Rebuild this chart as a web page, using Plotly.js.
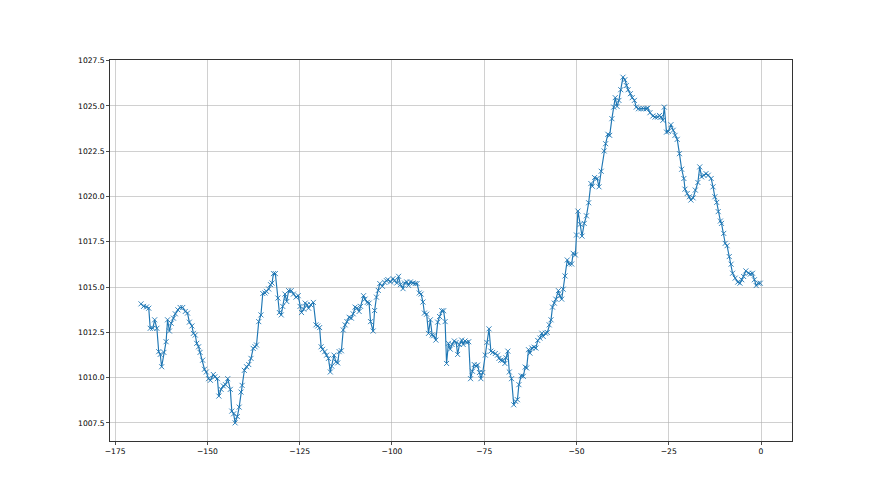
<!DOCTYPE html>
<html>
<head>
<meta charset="utf-8">
<script src="https://cdn.plot.ly/plotly-3.0.1.min.js"></script>
<style>html,body{margin:0;padding:0;background:#fff;}#chart{width:880px;height:495px;}</style>
</head>
<body>
<div id="chart"></div>
<script>
const hours = [
-168.0,-167.3,-166.5,-165.9,-165.5,-164.8,-164.3,-163.7,-163.2,-162.8,-162.4,-161.8,-161.2,-160.8,-160.3,-159.8,-159.2,-158.7,-158.0,-157.4,
-156.7,-156.0,-155.4,-154.9,-154.2,-153.8,-153.3,-152.9,-152.4,-152.0,-151.3,-150.8,-150.3,-149.7,-149.2,-148.4,-148.0,-147.3,-146.9,-146.3,
-145.7,-145.1,-144.5,-143.8,-143.4,-142.9,-142.5,-141.9,-141.4,-140.9,-140.6,-140.0,-139.4,-138.8,-138.2,-137.6,-137.1,-136.7,-136.1,-135.5,
-135.0,-134.4,-134.0,-133.4,-132.9,-132.5,-132.1,-131.6,-130.9,-130.5,-130.0,-129.6,-129.0,-128.5,-128.0,-127.3,-126.7,-126.0,-125.4,-124.9,
-124.5,-123.9,-123.5,-123.0,-122.6,-122.0,-121.3,-120.6,-120.1,-119.6,-119.2,-118.8,-118.2,-117.7,-117.2,-116.7,-116.3,-115.7,-115.2,-114.7,
-114.3,-113.7,-113.2,-112.7,-112.2,-111.6,-111.0,-110.5,-110.0,-109.5,-108.9,-108.5,-107.7,-107.3,-106.7,-106.2,-105.8,-105.1,-104.7,-104.2,
-103.7,-103.3,-102.6,-102.0,-101.5,-101.1,-100.4,-99.7,-99.3,-98.7,-98.2,-97.7,-97.0,-96.6,-96.0,-95.5,-95.0,-94.3,-93.7,-93.2,
-92.6,-92.1,-91.6,-91.2,-90.6,-90.1,-89.6,-89.1,-88.7,-88.1,-87.6,-87.1,-86.5,-86.0,-85.6,-85.2,-84.7,-84.2,-83.7,-83.1,
-82.6,-82.2,-81.7,-81.1,-80.7,-80.2,-79.7,-79.2,-78.7,-78.2,-77.7,-77.2,-76.8,-76.3,-75.9,-75.4,-74.7,-74.3,-73.7,-73.2,
-72.7,-72.0,-71.4,-71.0,-70.5,-70.0,-69.4,-69.1,-68.6,-68.2,-67.6,-67.0,-66.5,-66.0,-65.6,-65.0,-64.4,-63.9,-63.5,-63.0,
-62.6,-62.1,-61.5,-61.0,-60.5,-59.9,-59.4,-59.0,-58.4,-57.9,-57.4,-56.9,-56.5,-56.0,-55.6,-54.9,-54.5,-54.0,-53.6,-53.1,
-52.5,-52.0,-51.3,-50.9,-50.3,-50.0,-49.6,-49.0,-48.5,-47.9,-47.3,-46.7,-46.1,-45.7,-45.1,-44.4,-43.9,-43.3,-42.5,-42.1,
-41.5,-41.0,-40.4,-39.9,-39.5,-39.0,-38.5,-38.0,-37.4,-36.9,-36.5,-36.0,-35.4,-34.9,-34.3,-33.8,-33.2,-32.5,-31.8,-31.1,
-30.7,-30.1,-29.3,-28.7,-28.0,-27.5,-27.1,-26.6,-26.2,-25.6,-25.1,-24.4,-23.8,-23.3,-22.7,-22.1,-21.5,-20.9,-20.6,-20.0,
-19.4,-19.0,-18.4,-17.8,-17.1,-16.6,-16.1,-15.5,-14.9,-14.3,-13.5,-13.0,-12.5,-12.0,-11.6,-11.0,-10.7,-10.1,-9.7,-9.2,
-8.6,-8.1,-7.7,-7.0,-6.3,-5.7,-5.2,-4.7,-4.1,-3.4,-2.9,-2.3,-1.8,-1.3,-0.7,-0.2
];
const pressure = [
1014.07,1013.93,1013.90,1013.83,1012.72,1012.72,1013.19,1012.72,1011.43,1011.28,1010.60,1011.39,1011.98,1013.19,1012.57,1013.00,1013.28,1013.52,1013.74,1013.87,
1013.87,1013.65,1013.56,1013.06,1012.85,1012.44,1012.35,1011.89,1011.70,1011.39,1010.96,1010.46,1010.31,1009.94,1009.85,1010.17,1010.04,1009.94,1008.98,1009.35,
1009.54,1009.61,1009.94,1009.35,1008.15,1008.00,1007.50,1007.85,1008.37,1009.20,1009.57,1010.40,1010.60,1010.72,1011.06,1011.61,1011.70,1011.80,1013.09,1013.46,
1014.64,1014.67,1014.76,1014.89,1015.13,1015.22,1015.74,1015.74,1014.39,1013.59,1013.46,1013.93,1014.61,1014.20,1014.80,1014.80,1014.61,1014.44,1014.52,1013.93,
1013.59,1013.78,1014.11,1014.02,1013.83,1014.02,1014.15,1012.91,1012.85,1012.76,1011.70,1011.56,1011.43,1011.24,1011.06,1010.31,1010.63,1011.24,1010.87,1010.81,
1011.43,1011.48,1012.63,1012.91,1013.09,1013.33,1013.28,1013.52,1013.89,1013.83,1013.65,1013.93,1014.52,1014.33,1014.15,1014.11,1013.09,1012.57,1013.70,1014.44,
1014.81,1015.19,1015.04,1015.26,1015.35,1015.41,1015.28,1015.46,1015.35,1015.22,1015.59,1015.13,1014.91,1015.22,1015.28,1015.09,1015.28,1015.22,1015.19,1015.19,
1014.67,1014.61,1014.17,1013.56,1013.50,1012.44,1013.19,1012.35,1012.31,1012.07,1013.06,1013.37,1013.69,1013.69,1013.09,1010.78,1011.89,1011.57,1011.83,1012.02,
1011.94,1011.28,1011.83,1012.07,1011.83,1012.02,1011.94,1011.98,1009.94,1010.35,1010.72,1010.63,1010.69,1010.28,1009.94,1010.28,1011.24,1011.94,1012.69,1011.46,
1011.39,1011.33,1011.24,1011.06,1010.96,1010.96,1010.78,1011.09,1011.46,1010.31,1009.94,1008.50,1008.69,1008.78,1009.61,1010.10,1010.07,1010.58,1010.53,1011.54,
1011.35,1011.63,1011.68,1011.63,1012.05,1012.18,1012.45,1012.27,1012.45,1012.49,1012.91,1013.19,1013.89,1014.11,1014.33,1014.80,1014.51,1014.33,1014.88,1015.61,
1016.49,1016.27,1016.27,1016.86,1016.77,1017.87,1019.19,1018.46,1017.81,1018.51,1018.93,1019.65,1020.71,1020.56,1021.04,1020.99,1020.53,1021.39,1022.51,1022.91,
1023.43,1023.37,1024.29,1024.93,1025.45,1024.97,1025.30,1025.89,1026.58,1026.44,1026.12,1025.89,1025.67,1025.45,1025.30,1024.93,1024.84,1024.84,1024.84,1024.84,
1024.87,1024.62,1024.44,1024.38,1024.38,1024.47,1024.38,1024.20,1024.93,1023.55,1023.59,1023.96,1023.65,1023.37,1023.15,1022.36,1021.50,1020.99,1020.40,1020.16,
1019.98,1019.80,1019.92,1020.35,1020.77,1021.63,1021.08,1021.17,1021.26,1021.17,1020.99,1020.53,1019.98,1019.67,1019.16,1018.64,1018.51,1017.96,1017.41,1017.28,
1016.68,1016.26,1015.76,1015.49,1015.27,1015.21,1015.40,1015.58,1015.89,1015.76,1015.71,1015.76,1015.40,1015.08,1015.21,1015.21
];
const xTicks = [-175, -150, -125, -100, -75, -50, -25, 0];
const yTicks = [1007.5, 1010.0, 1012.5, 1015.0, 1017.5, 1020.0, 1022.5, 1025.0, 1027.5];

const trace = {
  x: hours, y: pressure, type: 'scatter', mode: 'lines+markers',
  line: {color: '#1f77b4', width: 1.15},
  marker: {symbol: 'x-thin', size: 5, color: '#1f77b4', line: {color: '#1f77b4', width: 0.9}},
  hoverinfo: 'skip'
};
const axisCommon = {
  showline: true, mirror: true, linecolor: '#000', linewidth: 0.8,
  showgrid: true, gridcolor: '#b0b0b0', gridwidth: 0.6,
  zeroline: false, ticks: 'outside', ticklen: 3, tickwidth: 0.7, tickcolor: '#000',
  tickfont: {family: 'DejaVu Sans', size: 7.6, color: '#000'}
};
const layout = {
  width: 880, height: 495,
  margin: {l: 110, r: 88, t: 60, b: 54, pad: 0},
  paper_bgcolor: '#fff', plot_bgcolor: '#fff',
  showlegend: false,
  xaxis: Object.assign({}, axisCommon, {range: [-176.4, 8.4], tickvals: xTicks, ticktext: xTicks.map(v => v < 0 ? '\u2212' + Math.abs(v) : String(v))}),
  yaxis: Object.assign({}, axisCommon, {range: [1006.5, 1027.53], tickvals: yTicks, ticktext: yTicks.map(v => v.toFixed(1))})
};
Plotly.newPlot('chart', [trace], layout, {staticPlot: true, displayModeBar: false});
</script>
</body>
</html>
